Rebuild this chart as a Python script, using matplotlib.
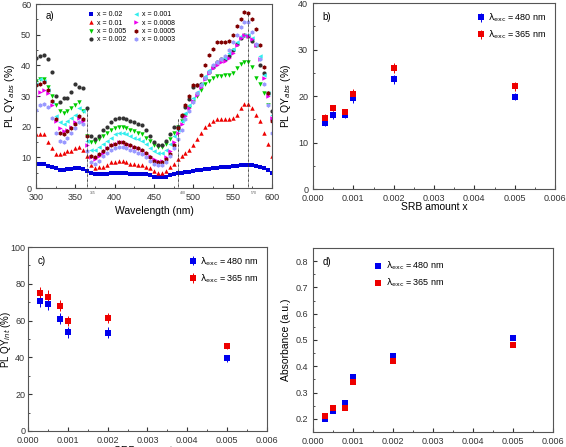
import matplotlib
matplotlib.use("Agg")
import matplotlib.pyplot as plt
import numpy as np
from matplotlib.ticker import MultipleLocator

plt.rcParams['font.family'] = ['Liberation Sans', 'DejaVu Sans']
plt.rcParams['font.size'] = 7

# ---------------- Panel a data ----------------
wavelength = list(range(300, 601, 5))
qy_002 = [8, 8, 7.8, 7.3, 7, 6.5, 6, 6, 6.2, 6.3, 6.5, 6.5, 6.2, 5.5, 5, 4.6, 4.5, 4.5, 4.7, 4.8,
          5, 5, 5, 4.8, 4.7, 4.6, 4.5, 4.5, 4.5, 4.2, 3.8, 3.7, 3.7, 3.8, 4.2, 4.5, 4.8, 5, 5.2, 5.4,
          5.6, 5.8, 6, 6.2, 6.4, 6.5, 6.6, 6.8, 6.9, 7, 7.1, 7.2, 7.4, 7.6, 7.6, 7.5, 7.3, 7, 6.5, 6, 5]
qy_001 = [17.5, 17.5, 17.5, 15, 13, 11, 11, 11.5, 12, 12, 13, 13.5, 12.5, 10.5, 7.5, 6.5, 7, 7, 7.5, 8.5,
          8.5, 9, 9, 8.5, 8, 8, 7.5, 7.5, 7, 6.5, 5.5, 5, 5, 5.5, 7, 8, 9.5, 10.5, 11.5, 12.5,
          14, 16, 18, 20, 21, 22, 22.5, 22.5, 22.5, 22.5, 23, 24, 26, 27.5, 27.5, 26, 24, 22, 18, 14.5, 10.5]
qy_0005 = [35, 35.5, 35.5, 33, 30, 27, 25, 24.5, 25, 26, 27, 28, 25, 17, 15, 15, 16, 17, 18, 19,
           19.5, 20, 20, 19.5, 19, 18.5, 18, 17.5, 16.5, 15.5, 14, 13.5, 13.5, 14.5, 16, 18, 20, 22, 24, 26,
           28, 30, 32, 34, 35, 36, 36.5, 36.5, 37, 37, 37.5, 39, 40.5, 41, 41, 39.5, 36, 34, 31, 27, 22]
qy_0002 = [42.5, 43, 43.5, 42, 38, 30, 28, 29.5, 29.5, 31.5, 34, 33, 32.5, 26, 17, 16, 17, 19, 20, 21.5,
           22.5, 23, 23, 22.5, 22, 21.5, 21, 20.5, 19, 17, 15, 14, 14, 15.5, 17.5, 20, 20, 23.5, 26.5, 29,
           33, 33.5, 34, 36, 38, 39.5, 41, 42, 42, 43, 45, 47, 49, 50, 49.5, 48, 46.5, 40, 37.5, 31, 25]
qy_0001 = [34, 35.5, 35, 32, 28, 23.5, 21.5, 21, 22, 23, 24, 26, 25, 15.5, 12.5, 12.5, 13.5, 14.5, 15.5, 16.5,
           17.5, 18, 18, 17.5, 17, 16.5, 16, 15.5, 14.5, 13, 12, 11.5, 11.5, 12.5, 14.5, 17, 19, 22, 24.5, 27,
           29.5, 31.5, 34, 36.5, 38.5, 40, 41, 42, 42.5, 44, 45.5, 47.5, 49.5, 50, 50, 49, 46.5, 43, 37, 31, 24]
qy_00008 = [30, 31.5, 32, 31, 27, 22, 19.5, 18.5, 19, 20, 21.5, 23, 22, 14, 10, 9.5, 10.5, 11.5, 13, 14,
            14.5, 15, 15, 14.5, 14, 13.5, 13, 12.5, 11.5, 10.5, 9.5, 9, 9, 10, 12, 15, 18, 21, 23.5, 26,
            28.5, 30.5, 33, 35.5, 37.5, 39, 40, 41, 41.5, 42.5, 44, 46.5, 49, 50, 49.5, 48.5, 46.5, 42, 36, 30, 23]
qy_00005 = [33.5, 34, 34.5, 32, 28.5, 22.5, 18, 17.5, 18.5, 19.5, 21, 23.5, 22.5, 17, 10.5, 10, 11, 12, 13, 14,
            14.5, 15, 15, 14.5, 14, 13.5, 13, 12.5, 11.5, 10, 9, 8.5, 8.5, 9.5, 11, 14, 19.5, 24, 27, 30,
            33.5, 33.5, 37, 40, 43.5, 45.5, 47.5, 47.5, 47.5, 48, 50, 53, 55, 57.5, 57, 55, 52, 46.5, 39.5, 31, 22]
qy_00003 = [25.5, 27, 27.5, 26.5, 23, 18, 15.5, 15, 16.5, 18, 19.5, 21.5, 21, 12, 8.5, 8, 9, 10.5, 11.5, 12.5,
            13, 13.5, 13.5, 13, 12.5, 12, 11.5, 11, 10, 9, 8, 7.5, 7.5, 8.5, 10.5, 13, 16, 19, 22.5, 25,
            28, 31, 33.5, 36, 38, 40, 41, 42, 43, 45, 47.5, 50, 52.5, 54, 54, 51, 47, 42, 34, 27, 18]
marker_wl = [365, 480, 570]
marker_top = [26, 23, 57]

# ---------------- Panels b-d data ----------------
srb_x = [0.0003, 0.0005, 0.0008, 0.001, 0.002, 0.005]
qy_abs_480 = [14.3, 16.0, 15.9, 19.5, 23.6, 19.9]
qy_abs_480_err = [0.7, 0.9, 0.6, 1.0, 1.0, 0.8]
qy_abs_365 = [15.3, 17.5, 16.5, 20.5, 26.0, 22.1]
qy_abs_365_err = [0.8, 0.6, 0.6, 1.1, 1.1, 0.9]
qy_int_480 = [70.9, 68.9, 61.1, 53.6, 53.5, 39.5]
qy_int_480_err = [3.5, 3.3, 3.0, 2.8, 2.8, 1.8]
qy_int_365 = [74.9, 73.1, 68.0, 59.6, 61.6, 46.2]
qy_int_365_err = [3.6, 3.5, 3.0, 2.8, 2.8, 1.8]
abs_480 = [0.200, 0.229, 0.260, 0.360, 0.438, 0.509]
abs_365 = [0.210, 0.240, 0.240, 0.341, 0.419, 0.480]

fig = plt.figure(figsize=(5.66, 4.47), dpi=100)
axa = fig.add_axes([0.0636, 0.579, 0.417, 0.412])
axb = fig.add_axes([0.553, 0.577, 0.4276, 0.416])
axc = fig.add_axes([0.0495, 0.0358, 0.422, 0.4116])
axd = fig.add_axes([0.553, 0.0336, 0.424, 0.4116])

spine_col = '#555555'
for ax in (axa, axb, axc, axd):
    for s in ax.spines.values():
        s.set_color(spine_col)
        s.set_linewidth(0.8)
    ax.tick_params(which='both', direction='in', colors='#333333', labelsize=6.5, top=False, right=False)
    ax.tick_params(which='major', length=3)
    ax.tick_params(which='minor', length=1.5)

# Panel a
series = [
    (qy_002, 'x = 0.02', '#0000dd', 's', 2.5),
    (qy_001, 'x = 0.01', '#ee0000', '^', 3.2),
    (qy_0005, 'x = 0.005', '#00cc00', 'v', 3.2),
    (qy_0002, 'x = 0.002', '#333333', 'o', 3.0),
    (qy_0001, 'x = 0.001', '#33eeee', '<', 3.2),
    (qy_00008, 'x = 0.0008', '#ee00ee', '>', 3.2),
    (qy_00005, 'x = 0.0005', '#800000', 'h', 3.2),
    (qy_00003, 'x = 0.0003', '#9999ff', 'h', 3.2),
]
for vals, lab, col, mk, ms in series:
    axa.plot(wavelength, vals, linestyle='none', marker=mk, color=col, markersize=ms,
             markeredgewidth=0, label=lab)
axa.vlines(marker_wl, 0, marker_top, colors='#333333', linestyles=(0, (1, 1, 3, 1)), linewidth=0.6)
for w in marker_wl:
    axa.text(w + 3, -0.8, str(w), fontsize=2.5, color='#555555', ha='left', va='top')
axa.set_xlim(300, 600)
axa.set_ylim(0, 60)
axa.xaxis.set_major_locator(MultipleLocator(50))
axa.xaxis.set_minor_locator(MultipleLocator(25))
axa.yaxis.set_major_locator(MultipleLocator(10))
axa.yaxis.set_minor_locator(MultipleLocator(5))
axa.set_xlabel('Wavelength (nm)', fontsize=7.5, labelpad=3)
axa.set_ylabel('PL QY$_{abs}$ (%)', fontsize=7.5, labelpad=3)
axa.text(0.04, 0.96, 'a)', transform=axa.transAxes, fontsize=7, va='top')
axa.legend(ncol=2, loc='upper center', bbox_to_anchor=(0.40, 0.995), frameon=False, fontsize=5,
           handletextpad=0.2, columnspacing=0.6, labelspacing=0.2, handlelength=1.5, markerscale=1.0)

def srb_axis(ax):
    ax.set_xlim(0, 0.006)
    ax.xaxis.set_major_locator(MultipleLocator(0.001))
    ax.xaxis.set_minor_locator(MultipleLocator(0.0005))
    ax.xaxis.set_major_formatter(plt.FuncFormatter(lambda v, p: f'{v:.3f}'))

lab480 = r'$\mathrm{\lambda_{exc}}$ = 480 nm'
lab365 = r'$\mathrm{\lambda_{exc}}$ = 365 nm'

# Panel b
axb.errorbar(srb_x, qy_abs_480, yerr=qy_abs_480_err, fmt='s', color='#0000ee', markersize=4,
             capsize=1.5, elinewidth=0.7, markeredgewidth=0, label=lab480)
axb.errorbar(srb_x, qy_abs_365, yerr=qy_abs_365_err, fmt='s', color='#ee0000', markersize=4,
             capsize=1.5, elinewidth=0.7, markeredgewidth=0, label=lab365)
srb_axis(axb)
axb.set_ylim(0, 40)
axb.yaxis.set_major_locator(MultipleLocator(10))
axb.yaxis.set_minor_locator(MultipleLocator(5))
axb.set_xlabel('SRB amount x', fontsize=7.5, labelpad=-1)
axb.set_ylabel('PL QY$_{abs}$ (%)', fontsize=7.5, labelpad=4)
axb.text(0.04, 0.95, 'b)', transform=axb.transAxes, fontsize=7, va='top')
axb.legend(loc='upper right', frameon=False, fontsize=6.5, handletextpad=0.3, handlelength=1.0,
           labelspacing=0.5)

# Panel c
axc.errorbar(srb_x, qy_int_480, yerr=qy_int_480_err, fmt='s', color='#0000ee', markersize=4,
             capsize=1.5, elinewidth=0.7, markeredgewidth=0, label=lab480)
axc.errorbar(srb_x, qy_int_365, yerr=qy_int_365_err, fmt='s', color='#ee0000', markersize=4,
             capsize=1.5, elinewidth=0.7, markeredgewidth=0, label=lab365)
srb_axis(axc)
axc.set_ylim(0, 100)
axc.yaxis.set_major_locator(MultipleLocator(20))
axc.yaxis.set_minor_locator(MultipleLocator(10))
axc.tick_params(axis='y', which='major', pad=2)
axc.set_xlabel('SRB amount x', fontsize=7.5, labelpad=0.5)
axc.set_ylabel('PL QY$_{int}$ (%)', fontsize=7)
axc.yaxis.set_label_coords(-0.062, 0.5)
axc.text(0.04, 0.95, 'c)', transform=axc.transAxes, fontsize=7, va='top')
axc.legend(loc='upper right', frameon=False, fontsize=6.5, handletextpad=0.3, handlelength=1.0,
           labelspacing=0.5)

# Panel d
axd.plot(srb_x, abs_480, 's', color='#0000ee', markersize=4.5, markeredgewidth=0, label=lab480)
axd.plot(srb_x, abs_365, 's', color='#ee0000', markersize=4.5, markeredgewidth=0, label=lab365)
srb_axis(axd)
axd.set_ylim(0.15, 0.85)
axd.yaxis.set_major_locator(MultipleLocator(0.1))
axd.yaxis.set_minor_locator(MultipleLocator(0.05))
axd.set_ylabel('Absorbance (a.u.)', fontsize=7.5, labelpad=3)
axd.text(0.04, 0.95, 'd)', transform=axd.transAxes, fontsize=7, va='top')
axd.legend(loc='upper left', bbox_to_anchor=(0.22, 0.98), frameon=False, fontsize=6.5,
           handletextpad=0.3, handlelength=1.0, labelspacing=0.5)

fig.savefig('out.png', dpi=100)
